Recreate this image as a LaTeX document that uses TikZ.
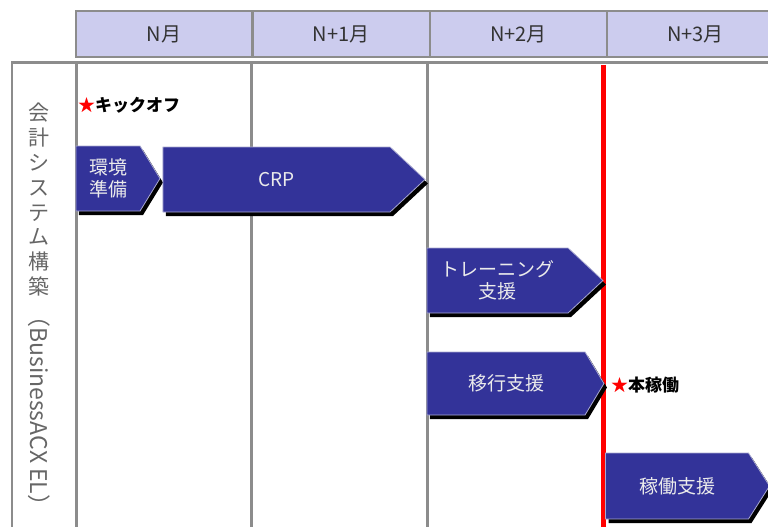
\documentclass[tikz,border=0pt]{standalone}
\usepackage{fontspec}
\setmainfont{Noto Sans CJK JP}
\usetikzlibrary{positioning,shapes.symbols,shadows}
\definecolor{headfill}{HTML}{CCCCEE}
\definecolor{phasefill}{HTML}{333399}
\definecolor{phaseedge}{HTML}{A8A8D0}
\definecolor{rulegray}{HTML}{8C8C8C}
\definecolor{labelgray}{HTML}{666666}

\begin{document}
\begin{tikzpicture}[x=1pt,y=-1pt,
	month/.style={draw=rulegray, line width=1.2pt, fill=headfill, minimum width=176pt, minimum height=46pt, inner sep=0pt, text=black!80, font=\fontsize{20}{20}\selectfont},
	phase/.style={signal, signal to=east, signal from=nowhere, fill=phasefill, draw=phaseedge, line width=0.8pt, text=white!92!black, align=center, inner sep=0pt, font=\fontsize{19}{22}\selectfont, drop shadow={shadow xshift=3pt, shadow yshift=-4pt, fill=black, opacity=1}},
	milestone/.style={anchor=west, inner sep=0pt, font=\fontsize{17}{17}\selectfont\bfseries},
	gridline/.style={rulegray, line width=3pt}]
	\useasboundingbox (0,0) rectangle (768,527);
	
	\node[month] (m0) at (164,34) {N月};
	\node[month, right=0pt of m0] (m1) {N+1月};
	\node[month, right=0pt of m1] (m2) {N+2月};
	\node[month, right=0pt of m2] (m3) {N+3月};
	
	\draw[rulegray, line width=1.2pt] (12,527) -- (12,63);
	\draw[gridline] (11,63) -- (768,63);
	\foreach \x in {76,251,427}
		\draw[gridline] (\x,63) -- (\x,527);
	\draw[red, line width=4.5pt] (603.5,65) -- (603.5,527);
	
	\node[font=\fontsize{21}{24.8}\selectfont, text=labelgray, align=center, anchor=north, inner sep=0pt] (sys) at (39,103) {会\\計\\シ\\ス\\テ\\ム\\構\\築};
	\node[font=\fontsize{23}{23}\selectfont, text=labelgray, rotate=-90, anchor=west, inner sep=0pt] (pkg) at (39,304) {（BusinessACX EL）};
	
	\node[milestone] (kick) at (78,105) {\textcolor{red}{★}キックオフ};
	\node[milestone] (golive) at (611,385) {\textcolor{red}{★}本稼働};
	
	\node[phase, minimum width=84pt, minimum height=65pt, signal pointer angle=117] (env) at (108,178.5) {環境\\準備};
	\node[phase, minimum width=262pt, minimum height=65pt, signal pointer angle=86] (crp) at (276.5,179.5) {CRP};
	\node[phase, minimum width=176pt, minimum height=65pt, signal pointer angle=86] (train) at (497.5,280.5) {トレーニング\\支援};
	\node[phase, minimum width=177pt, minimum height=63pt, signal pointer angle=118] (migr) at (506,383.5) {移行支援};
	\node[phase, minimum width=164pt, minimum height=66pt, signal pointer angle=115] (run) at (677,486) {稼働支援};
\end{tikzpicture}
\end{document}
